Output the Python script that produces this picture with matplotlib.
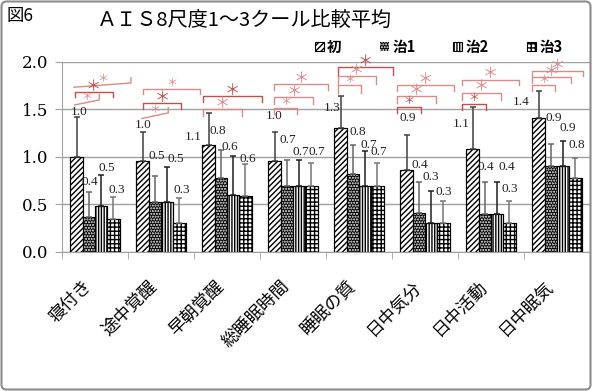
import matplotlib
matplotlib.use("Agg")
import matplotlib.pyplot as plt
import numpy as np
from matplotlib.patches import FancyBboxPatch, Patch

JP = ["Noto Sans CJK JP", "DejaVu Sans"]
NUM = "Liberation Serif"

categories = ["寝付き", "途中覚醒", "早朝覚醒", "総睡眠時間", "睡眠の質", "日中気分", "日中活動", "日中眠気"]
series_names = ["初", "治1", "治2", "治3"]

mean_init = [1.00, 0.96, 1.12, 0.96, 1.30, 0.86, 1.08, 1.41]
mean_t1 = [0.37, 0.52, 0.78, 0.69, 0.82, 0.41, 0.40, 0.90]
mean_t2 = [0.48, 0.52, 0.60, 0.69, 0.69, 0.30, 0.40, 0.90]
mean_t3 = [0.34, 0.30, 0.59, 0.69, 0.69, 0.30, 0.30, 0.78]

err_init = [0.42, 0.30, 0.34, 0.30, 0.34, 0.37, 0.45, 0.28]
err_t1 = [0.26, 0.28, 0.29, 0.28, 0.31, 0.32, 0.34, 0.24]
err_t2 = [0.33, 0.37, 0.41, 0.28, 0.37, 0.34, 0.34, 0.27]
err_t3 = [0.24, 0.27, 0.33, 0.25, 0.25, 0.23, 0.23, 0.21]

# where each value label sits, in pixels from the top of its error bar
# (the labels were moved by hand in the original)
label_shift = [
    [(3, 5), (1, 7), (-15, -24), (0, 16), (-8, -12), (1, 17), (-11, -17), (-17, -11)],
    [(1, 10), (2, 20), (-3, 19), (1, 20), (5, 13), (1, 17), (1, 15), (3, 26)],
    [(6, 7), (9, 8), (-3, 9), (2, 8), (4, 6), (0, 14), (10, 15), (5, 13)],
    [(3, 7), (2, 8), (2, 5), (5, 11), (1, 11), (0, 9), (0, 12), (1, 13)],
]

# significance brackets (hand drawn in the original):
# category, x0, x1 (offset from category centre), y at left, y at right,
# leg length at left / right (negative = leg goes up), big star, dark tone
brackets = [
    (0, -0.32, 0.545, 1.734, 1.779, 0.0, -0.055, False, False),
    (0, -0.31, 0.27, 1.68, 1.68, 0.053, 0.053, True, True),
    (0, -0.31, 0.065, 1.547, 1.60, 0.0, -0.057, False, False),
    (1, -0.277, 0.59, 1.72, 1.72, 0.06, 0.06, False, False),
    (1, -0.277, 0.30, 1.568, 1.568, 0.063, 0.063, True, True),
    (1, -0.29, 0.11, 1.404, 1.463, 0.0, -0.057, False, False),
    (2, -0.364, 0.526, 1.644, 1.644, 0.07, 0.07, True, True),
    (2, -0.364, 0.223, 1.505, 1.505, 0.07, 0.07, True, False),
    (3, -0.283, 0.535, 1.768, 1.768, 0.065, 0.065, True, False),
    (3, -0.283, 0.307, 1.628, 1.628, 0.07, 0.07, True, False),
    (3, -0.283, 0.056, 1.516, 1.516, 0.065, 0.065, False, False),
    (4, -0.323, 0.52, 1.947, 1.947, 0.08, 0.08, True, True),
    (4, -0.323, 0.253, 1.853, 1.853, 0.08, 0.08, True, False),
    (4, -0.323, 0.03, 1.755, 1.755, 0.077, 0.077, False, False),
    (5, -0.429, 0.444, 1.755, 1.755, 0.063, 0.063, True, False),
    (5, -0.429, 0.167, 1.642, 1.642, 0.07, 0.07, True, False),
    (5, -0.429, -0.065, 1.526, 1.526, 0.06, 0.06, False, True),
    (6, -0.444, 0.429, 1.815, 1.815, 0.053, 0.053, True, False),
    (6, -0.444, 0.152, 1.678, 1.678, 0.074, 0.074, True, False),
    (6, -0.444, -0.08, 1.562, 1.562, 0.063, 0.063, False, True),
    (7, -0.383, 0.398, 1.905, 1.905, 0.056, 0.056, True, False),
    (7, -0.383, 0.212, 1.842, 1.842, 0.063, 0.063, True, False),
    (7, -0.383, -0.03, 1.755, 1.755, 0.06, 0.06, False, False),
]

plt.rcParams["hatch.linewidth"] = 1.0

means = [mean_init, mean_t1, mean_t2, mean_t3]
errs = [err_init, err_t1, err_t2, err_t3]
styles = [
    dict(facecolor="white", edgecolor="black", hatch="//////"),
    dict(facecolor="black", edgecolor="white", hatch="......"),
    dict(facecolor="white", edgecolor="black", hatch="||||||"),
    dict(facecolor="white", edgecolor="black", hatch="++++"),
]
err_colors = ["#404040", "#666666", "#202020", "#777777"]

fig = plt.figure(figsize=(5.92, 3.91), dpi=100)
ax = fig.add_axes([62 / 592, 1 - 251.7 / 391, 528 / 592, 189.7 / 391])

x = np.arange(len(categories))
width = 0.186
for k, (vals, err) in enumerate(zip(means, errs)):
    xs = x + (k - 1.5) * width
    ax.bar(xs, vals, width, linewidth=0.8, zorder=2, **styles[k])
    ax.bar(xs, vals, width, fill=False, edgecolor="black", linewidth=0.8, zorder=2.1)
    ax.errorbar(xs, vals, yerr=[np.zeros(len(vals)), err], fmt="none",
                ecolor=err_colors[k], elinewidth=1.1, capsize=2.5, capthick=1.1, zorder=3)
    for xi, v, e, (dx, dy) in zip(xs, vals, err, label_shift[k]):
        ax.annotate(f"{v:.1f}", xy=(xi, v + e), xytext=(dx, dy), textcoords="offset pixels",
                    ha="center", va="center", fontsize=9.5, family=NUM, color="#222222",
                    zorder=5)

dark, light = "#c0504d", "#dc8a8a"
for cat, x0, x1, yl, yr, legl, legr, big, tone in brackets:
    c = dark if tone else light
    ax.plot([cat + x0, cat + x0, cat + x1, cat + x1], [yl - legl, yl, yr, yr - legr],
            color=c, lw=1.0, clip_on=False, zorder=4)
    ax.text(cat + (x0 + x1) / 2, (yl + yr) / 2 + 0.06, "＊", color=c,
            fontsize=11 if big else 8, family=JP, ha="center", va="center", zorder=4)

ax.set_xlim(-0.5, len(categories) - 0.5)
ax.set_ylim(0, 2.0)
ax.set_yticks(np.arange(0, 2.01, 0.5))
ax.set_yticklabels([f"{t:.1f}" for t in np.arange(0, 2.01, 0.5)], family="DejaVu Serif",
                   fontsize=12)
ax.tick_params(axis="y", length=5, color="#a0a0a0", pad=5)
ax.yaxis.grid(True, color="#a0a0a0", lw=1.0, zorder=0)
ax.set_axisbelow(True)

ax.set_xticks(x)
ax.set_xticklabels(categories, rotation=45, ha="right", va="top", family=JP, fontsize=12.5)
ax.tick_params(axis="x", which="major", length=0, pad=18)
ax.set_xticks(np.arange(len(categories) + 1) - 0.5, minor=True)
ax.tick_params(axis="x", which="minor", length=5, color="#a0a0a0")

for side in ["top", "right"]:
    ax.spines[side].set_visible(False)
ax.spines["left"].set_color("#a0a0a0")
ax.spines["bottom"].set_color("#a0a0a0")

handles = [Patch(**s, linewidth=0.8) for s in styles]
handles[1] = Patch(facecolor="black", edgecolor="white", hatch="......", linewidth=0)
ax.legend(handles, series_names, loc="center", bbox_to_anchor=(0.741, 0.881),
          bbox_transform=fig.transFigure, ncol=4, frameon=False,
          handlelength=0.6, handleheight=0.6, handletextpad=0.25, columnspacing=2.6,
          prop=dict(family=JP, weight="bold", size=10.5))

fig.text(7 / 592, 1 - 16 / 391, "図6", fontsize=12.5, family=JP, ha="left", va="center")
fig.text(97 / 592, 1 - 20 / 391, "ＡＩＳ8尺度1～3クール比較平均", fontsize=14.5,
         family=JP, ha="left", va="center")

border = FancyBboxPatch((0.015, 0.015), 5.89, 3.88, boxstyle="round,pad=0,rounding_size=0.05",
                        transform=fig.dpi_scale_trans, fill=False, edgecolor="#8c8c8c", lw=1.5)
fig.add_artist(border)

fig.savefig("out.png", dpi=100)
